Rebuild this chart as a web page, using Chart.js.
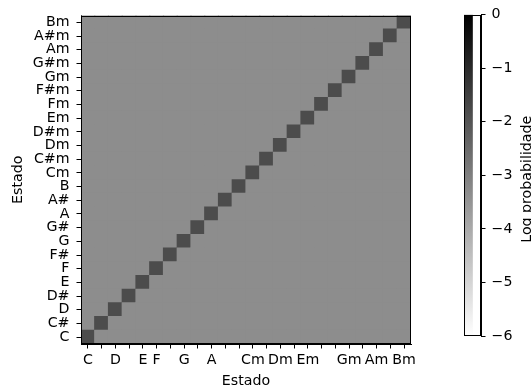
<!DOCTYPE html>
<html>
<head>
<meta charset="utf-8">
<script src="https://cdn.jsdelivr.net/npm/chart.js@4/dist/chart.umd.min.js"></script>
<style>
  html, body { margin: 0; padding: 0; background: #fff; }
  #wrap { position: relative; width: 531px; height: 390px; }
  #main { position: absolute; left: 0; top: 0; }
  #cbar { position: absolute; left: 440px; top: 0; }
</style>
</head>
<body>
<div id="wrap">
  <canvas id="main" width="531" height="390"></canvas>
  <canvas id="cbar" width="91" height="390"></canvas>
</div>
<script>
// ---- data ----
const states = ['C','C#','D','D#','E','F','F#','G','G#','A','A#','B',
                'Cm','C#m','Dm','D#m','Em','Fm','F#m','Gm','G#m','Am','A#m','Bm'];
const xTickLabels = ['C','','D','','E','F','','G','','A','','',
                     'Cm','','Dm','','Em','','','Gm','','Am','','Bm'];
const yTickLabels = states;
// log transition probability: staying in the same state (diagonal)
const diagonalLogProb = [-1.8,-1.8,-1.8,-1.8,-1.8,-1.8,-1.8,-1.8,-1.8,-1.8,-1.8,-1.8,
                         -1.8,-1.8,-1.8,-1.8,-1.8,-1.8,-1.8,-1.8,-1.8,-1.8,-1.8,-1.8];
// log transition probability to any other state (off-diagonal), per row
const offDiagonalLogProb = [-3.32,-3.32,-3.32,-3.32,-3.32,-3.32,-3.32,-3.32,-3.32,-3.32,-3.32,-3.32,
                            -3.32,-3.32,-3.32,-3.32,-3.32,-3.32,-3.32,-3.32,-3.32,-3.32,-3.32,-3.32];
const colorbarTicks = [0,-1,-2,-3,-4,-5,-6];
const vmin = -6, vmax = 0;

// ---- colour map (gray_r) ----
function grayR(v) {
  const t = Math.min(1, Math.max(0, (v - vmin) / (vmax - vmin)));
  const g = Math.round(255 * (1 - t));
  return 'rgb(' + g + ',' + g + ',' + g + ')';
}
function cellValue(r, c) { return r === c ? diagonalLogProb[r] : offDiagonalLogProb[r]; }

const FONT_SIZE = 14.2;
Chart.defaults.font.family = "'DejaVu Sans', sans-serif";
Chart.defaults.font.size = FONT_SIZE;
Chart.defaults.color = '#000';

const datasets = states.map((_, r) => ({
  label: states[r],
  data: states.map(() => [r, r + 1]),
  backgroundColor: states.map((_, c) => grayR(cellValue(r, c))),
  borderWidth: 0,
  inflateAmount: 0.6,
  barPercentage: 1,
  categoryPercentage: 1,
  grouped: false
}));

const frame = {
  id: 'frame',
  afterDraw(chart) {
    const a = chart.chartArea, ctx = chart.ctx;
    ctx.save();
    ctx.strokeStyle = '#000';
    ctx.lineWidth = 1;
    ctx.strokeRect(Math.round(a.left) + 0.5, Math.round(a.top) + 0.5,
                   Math.round(a.right - a.left) - 1, Math.round(a.bottom - a.top) - 1);
    ctx.restore();
  }
};

new Chart(document.getElementById('main'), {
  type: 'bar',
  data: { labels: states, datasets },
  options: {
    responsive: false,
    animation: false,
    devicePixelRatio: 1,
    layout: { padding: { left: 0, top: 14, right: 120, bottom: 0 } },
    plugins: { legend: { display: false }, tooltip: { enabled: false } },
    scales: {
      x: {
        type: 'category',
        offset: true,
        grid: { offset: false, drawOnChartArea: false, drawTicks: true, tickLength: 4.5, color: '#000' },
        border: { display: true, color: '#000' },
        ticks: { autoSkip: false, maxRotation: 0, minRotation: 0, padding: 3,
                 callback: (v, i) => xTickLabels[i] },
        title: { display: true, text: 'Estado', padding: { top: 0, bottom: 0 } },
        afterFit: s => { s.height = 46; }
      },
      y: {
        type: 'linear',
        min: 0, max: 24,
        afterBuildTicks: s => { s.ticks = yTickLabels.map((_, i) => ({ value: i + 0.5 })); },
        grid: { drawOnChartArea: false, drawTicks: true, tickLength: 4.5, color: '#000' },
        border: { display: true, color: '#000' },
        ticks: { autoSkip: false, padding: 7,
                 callback: v => yTickLabels[Math.floor(v)] },
        title: { display: true, text: 'Estado', padding: { top: 9.5, bottom: 0 } },
        afterFit: s => { s.width = 81; }
      }
    }
  },
  plugins: [frame]
});

// ---- colour bar ----
const cbLabel = {
  id: 'cbLabel',
  afterDraw(chart) {
    const a = chart.chartArea, ctx = chart.ctx;
    ctx.save();
    ctx.fillStyle = '#000';
    ctx.font = FONT_SIZE + "px 'DejaVu Sans', sans-serif";
    ctx.textAlign = 'center';
    ctx.textBaseline = 'middle';
    ctx.translate(87.5, (a.top + a.bottom) / 2 + 4);
    ctx.rotate(-Math.PI / 2);
    ctx.fillText('Log probabilidade', 0, 0);
    ctx.restore();
  }
};

new Chart(document.getElementById('cbar'), {
  type: 'bar',
  data: {
    labels: [''],
    datasets: [{
      data: [[vmin, vmax]],
      borderWidth: 0,
      barPercentage: 1,
      categoryPercentage: 1,
      backgroundColor: ctx => {
        const a = ctx.chart.chartArea;
        if (!a) return '#888';
        const g = ctx.chart.ctx.createLinearGradient(0, a.bottom, 0, a.top);
        g.addColorStop(0, grayR(vmin));
        g.addColorStop(1, grayR(vmax));
        return g;
      }
    }]
  },
  options: {
    responsive: false,
    animation: false,
    devicePixelRatio: 1,
    layout: { padding: { left: 24, top: 14, right: 0, bottom: 54 } },
    plugins: { legend: { display: false }, tooltip: { enabled: false } },
    scales: {
      x: { display: false, offset: false },
      y: {
        position: 'right',
        min: vmin, max: vmax,
        afterBuildTicks: s => { s.ticks = colorbarTicks.map(v => ({ value: v })); },
        grid: { drawOnChartArea: false, drawTicks: true, tickLength: 4.5, color: '#000' },
        border: { display: true, color: '#000' },
        ticks: { padding: 6, callback: v => v < 0 ? '\u2212' + (-v) : String(v) },
        afterFit: s => { s.width = 50; }
      }
    }
  },
  plugins: [frame, cbLabel]
});
</script>
</body>
</html>
